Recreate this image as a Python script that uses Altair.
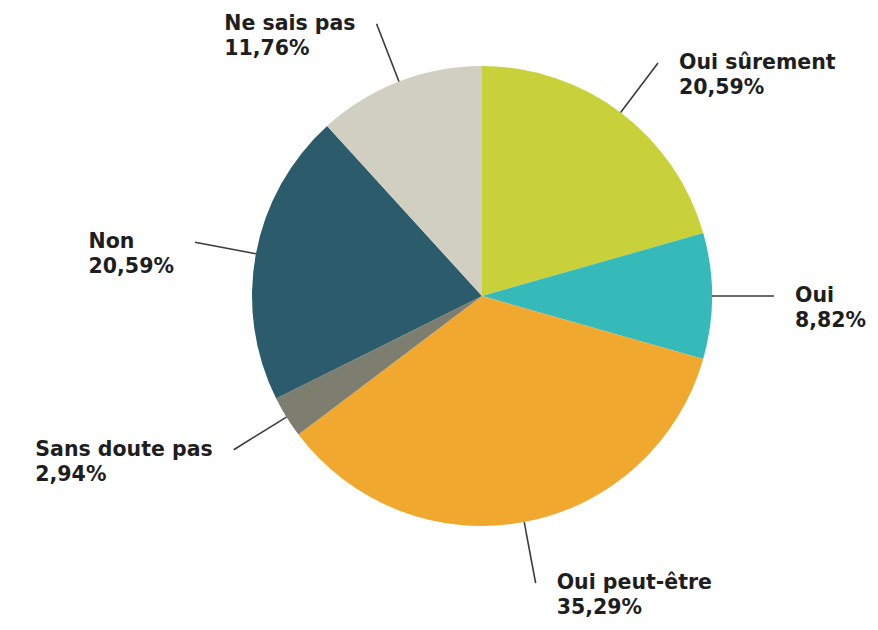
import math
import altair as alt
import pandas as pd

# ---- data ----
categories = ["Oui sûrement", "Oui", "Oui peut-être", "Sans doute pas", "Non", "Ne sais pas"]
values = [20.59, 8.82, 35.29, 2.94, 20.59, 11.76]
pct_labels = ["20,59%", "8,82%", "35,29%", "2,94%", "20,59%", "11,76%"]
colors = ["#c9d13a", "#36b9b9", "#f0a82e", "#7d7d70", "#2c5b6b", "#d1cec2"]

# ---- layout (style) ----
W, H = 862, 614
CX, CY = 474, 288          # pie centre in the view
R = 230                    # pie radius
R_LEAD = 292               # end of leader lines
GAP = 21                   # gap between leader end and label
FONT = 20.5
LINE_H = 25

# approximate DejaVu Sans Bold advance widths (em) to left-align blocks on the left side
EM = {" ": .348, "%": 1.002, ",": .381, "-": .416, "N": .837, "O": .850, "S": .720,
      "a": .675, "d": .716, "e": .678, "ê": .678, "i": .343, "m": 1.042, "n": .712,
      "o": .687, "p": .716, "r": .493, "s": .595, "t": .478, "u": .712, "û": .712}
for dch in "0123456789":
    EM[dch] = .696


def text_w(s):
    return sum(EM.get(c, .65) for c in s) * FONT


total = sum(values)
rows = []
cum = 0.0
for i, (c, v, p) in enumerate(zip(categories, values, pct_labels)):
    mid = (cum + v / 2) / total * 2 * math.pi
    cum += v
    sx, sy = math.sin(mid), -math.cos(mid)
    x1, y1 = CX + R * sx, CY + R * sy
    x2, y2 = CX + R_LEAD * sx, CY + R_LEAD * sy
    if sx >= 0:
        tx = x2 + GAP
    else:
        tx = x2 - GAP - max(text_w(c), text_w(p))
    rows.append(dict(idx=i, cat=c, value=v, pct=p, x1=x1, y1=y1, x2=x2, y2=y2,
                     tx=tx, ty1=y2, ty2=y2 + LINE_H))
df = pd.DataFrame(rows)

xs = alt.Scale(domain=[0, W], nice=False, zero=False)
ys = alt.Scale(domain=[0, H], nice=False, zero=False, reverse=True)

base = alt.Chart(df)

pie = base.mark_arc(outerRadius=R, stroke=None).encode(
    theta=alt.Theta("value:Q", stack=True),
    color=alt.Color("cat:N", scale=alt.Scale(domain=categories, range=colors), legend=None),
    order=alt.Order("idx:Q"),
    x=alt.value(CX),
    y=alt.value(CY),
)

leaders = base.mark_rule(color="#3a3a3a", strokeWidth=1.6).encode(
    x=alt.X("x1:Q", scale=xs, axis=None),
    y=alt.Y("y1:Q", scale=ys, axis=None),
    x2="x2:Q",
    y2="y2:Q",
)

line1 = base.mark_text(align="left", baseline="middle", font="DejaVu Sans",
                       fontWeight="bold", fontSize=FONT, color="#1e1e1e").encode(
    x=alt.X("tx:Q", scale=xs, axis=None),
    y=alt.Y("ty1:Q", scale=ys, axis=None),
    text="cat:N",
)

line2 = base.mark_text(align="left", baseline="middle", font="DejaVu Sans",
                       fontWeight="bold", fontSize=FONT, color="#1e1e1e").encode(
    x=alt.X("tx:Q", scale=xs, axis=None),
    y=alt.Y("ty2:Q", scale=ys, axis=None),
    text="pct:N",
)

chart = alt.layer(pie, leaders, line1, line2).properties(
    width=W, height=H, padding=0,
    autosize=alt.AutoSizeParams(type="none"),
).configure_view(stroke=None)

chart.save("out.html", embed_options={"renderer": "svg", "actions": False})
